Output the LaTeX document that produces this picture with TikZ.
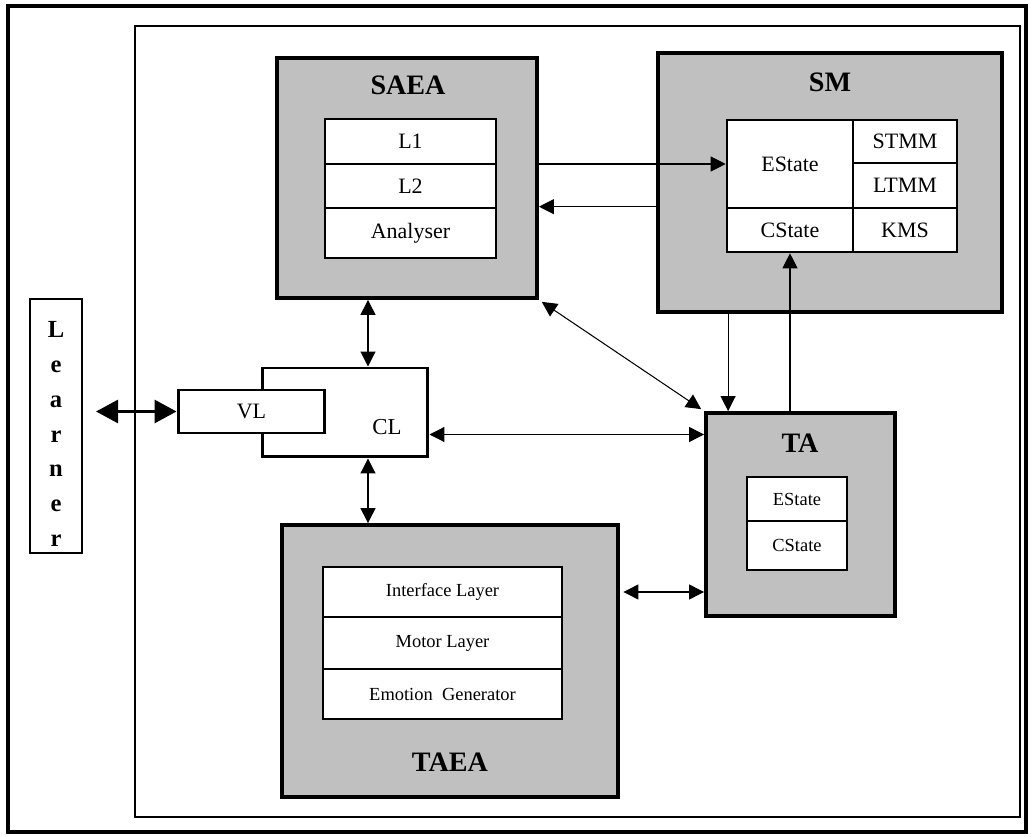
\documentclass[tikz,border=0pt]{standalone}
\usepackage{fontspec}
\setmainfont{Liberation Serif}
\usepackage{xcolor}
\usepackage{tikz}
\usetikzlibrary{arrows.meta,positioning}
\definecolor{boxgray}{RGB}{192,192,192}

\tikzset{
	gbox/.style={draw, line width=2.2pt, fill=boxgray, inner sep=0pt},
	cell/.style={draw, line width=1.5pt, fill=white, inner sep=0pt, font=\fontsize{12.5}{14}\selectfont},
	smallcell/.style={cell, font=\fontsize{10.5}{12}\selectfont},
	ttl/.style={font=\fontsize{16}{18}\selectfont\bfseries},
	arr/.style={-{Triangle[length=0.3cm,width=0.3cm]}, line width=0.6pt},
	dbl/.style={{Triangle[length=0.3cm,width=0.3cm]}-{Triangle[length=0.3cm,width=0.3cm]}, line width=0.6pt},
	bigdbl/.style={{Triangle[length=0.44cm,width=0.46cm]}-{Triangle[length=0.44cm,width=0.46cm]}, line width=1.7pt}
}

\begin{document}
\begin{tikzpicture}[x=0.02cm,y=-0.02cm]
		\useasboundingbox (0,0) rectangle (1031,837);
		\node[draw, line width=2pt, minimum width=20.36cm, minimum height=16.52cm] (frame) at (517,419) {};
		\node[draw, line width=1.2pt, minimum width=17.7cm, minimum height=15.82cm] (sys) at (577.5,421.5) {};

		\node[gbox, minimum width=5.2cm, minimum height=4.8cm] (saea) at (407,178) {};
		\node[ttl] (saeaT) at (408,85) {SAEA};
		\node[cell, minimum width=3.42cm, minimum height=0.9cm] (saeaL1) at (410.5,141.5) {L1};
		\node[cell, minimum width=3.42cm, minimum height=0.88cm] (saeaL2) at (410.5,186) {L2};
		\node[cell, minimum width=3.42cm, minimum height=1cm] (saeaAn) at (410.5,233) {Analyser};

		\node[gbox, minimum width=6.88cm, minimum height=5.18cm] (sm) at (830,182.5) {};
		\node[ttl] (smT) at (830,82) {SM};
		\node[cell, minimum width=2.52cm, minimum height=1.76cm] (smE) at (790,164) {EState};
		\node[cell, minimum width=2.52cm, minimum height=0.88cm] (smC) at (790,230) {CState};
		\node[cell, minimum width=2.08cm, minimum height=0.86cm] (smST) at (905,141.5) {STMM};
		\node[cell, minimum width=2.08cm, minimum height=0.9cm] (smLT) at (905,185.5) {LTMM};
		\node[cell, minimum width=2.08cm, minimum height=0.88cm] (smKM) at (905,230) {KMS};

		\node[gbox, minimum width=3.78cm, minimum height=4.06cm] (ta) at (800.5,514.5) {};
		\node[ttl] (taT) at (800,443) {TA};
		\node[smallcell, minimum width=2cm, minimum height=0.88cm] (taE) at (797,499) {EState};
		\node[smallcell, minimum width=2cm, minimum height=0.98cm] (taC) at (797,545.5) {CState};

		\node[gbox, minimum width=6.72cm, minimum height=5.44cm] (taea) at (450,661) {};
		\node[ttl] (taeaT) at (450,762) {TAEA};
		\node[smallcell, minimum width=4.78cm, minimum height=1cm] (taeaI) at (442.5,592) {Interface Layer};
		\node[smallcell, minimum width=4.78cm, minimum height=1.04cm] (taeaM) at (442.5,643) {Motor Layer};
		\node[smallcell, minimum width=4.78cm, minimum height=1cm] (taeaG) at (442.5,694) {Emotion\ \ Generator};

		\node[cell, line width=1.7pt, minimum width=3.32cm, minimum height=1.78cm] (cl) at (345,412.5) {};
		\node[font=\fontsize{13}{14}\selectfont] (clT) at (387,427) {CL};
		\node[cell, line width=1.7pt, minimum width=2.94cm, minimum height=0.86cm] (vl) at (251.5,411.5) {VL};

		\node[draw, line width=1.2pt, minimum width=1.04cm, minimum height=5.08cm] (learner) at (56,426) {};
		\node[align=center, font=\fontsize{14}{19.85}\selectfont\bfseries] (learnerT) at (56,434) {L\\e\\a\\r\\n\\e\\r};

		\path ([xshift=0.48cm]ta.north west) coordinate (tatop);
		\path ([xshift=0.46cm]cl.north) coordinate (clmid);
		\path ([yshift=-0.44cm]cl.east) coordinate (clright);

		\draw[arr] (saea.east |- smE.west) -- (smE.west);
		\draw[arr] (sm.west |- saeaAn.north) -- (saea.east |- saeaAn.north);
		\draw[arr] (smC.south |- ta.north) -- (smC.south);
		\draw[arr] (tatop |- sm.south) -- (tatop);
		\draw[dbl, shorten <=2pt, shorten >=2pt] (saea.south east) -- (ta.north west);
		\draw[dbl] (clmid |- saea.south) -- (clmid);
		\draw[dbl] (clmid |- cl.south) -- (clmid |- taea.north);
		\draw[dbl] (clright) -- (ta.west |- clright);
		\draw[dbl, shorten <=2pt] (taea.east |- taeaI.center) -- (ta.west |- taeaI.center);
		\draw[bigdbl, shorten <=0.26cm] (learner.east |- vl.west) -- (vl.west);
	\end{tikzpicture}
\end{document}
